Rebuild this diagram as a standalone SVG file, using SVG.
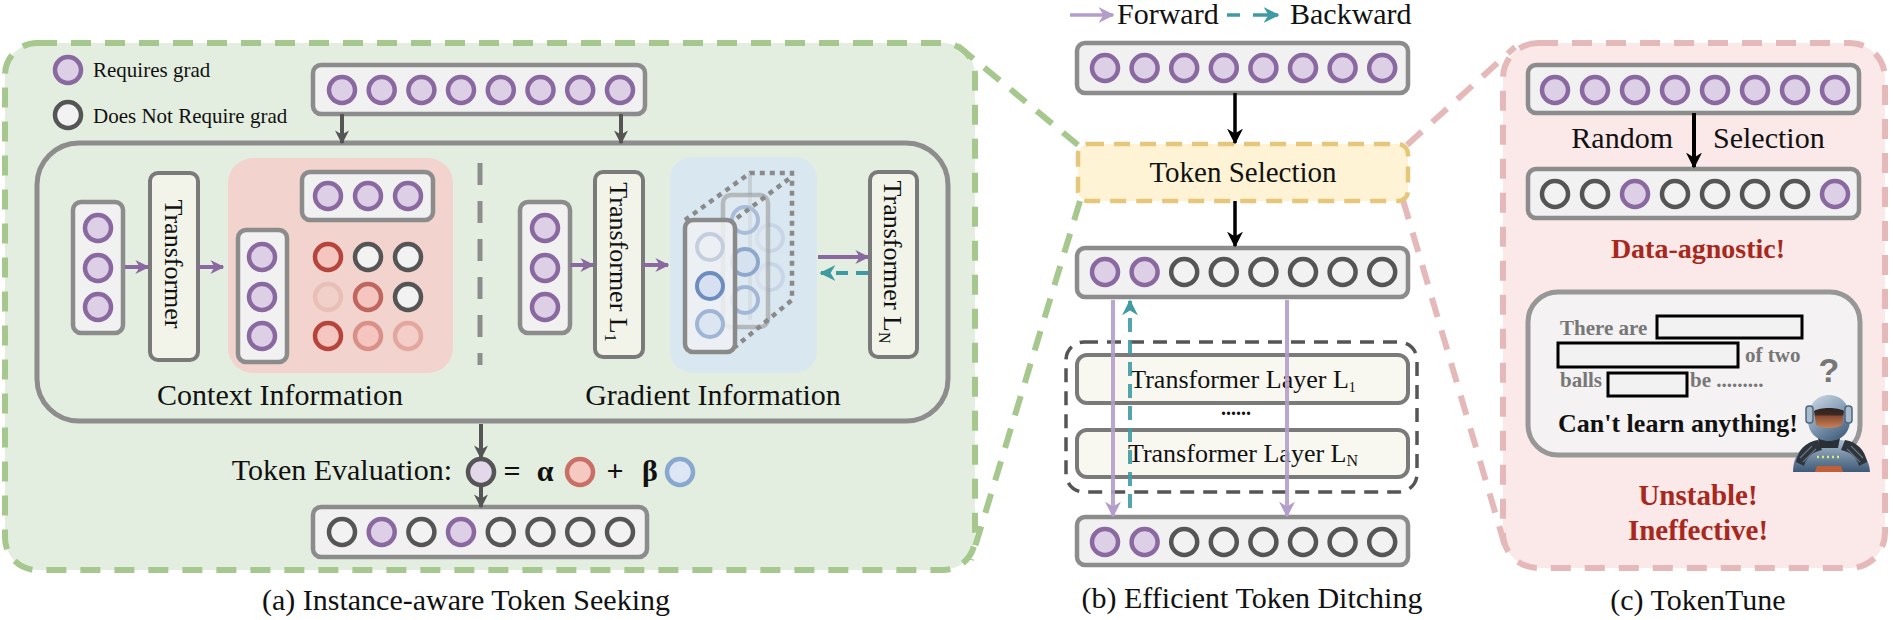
<svg xmlns="http://www.w3.org/2000/svg" width="1893" height="620" viewBox="0 0 1893 620">
<defs>
<style>
.t{font-family:"Liberation Serif","Times New Roman",serif;fill:#111}
.b{font-weight:bold}
.p{fill:#ddd0e6;stroke:#8a68a0;stroke-width:4.5}
.g{fill:#f2f2f2;stroke:#555;stroke-width:4.5}
.bar{fill:#f1f1f1;stroke:#8c8c8c;stroke-width:4.5}
.tf{fill:#f2f4ea;stroke:#7a7a7a;stroke-width:4}
.ly{fill:#f8f7f0;stroke:#7a7a7a;stroke-width:4}
.gd{fill:none;stroke:#a6c88e;stroke-width:6;stroke-dasharray:20 14}
.pd{fill:none;stroke:#e5b9b9;stroke-width:6;stroke-dasharray:20 14}
.dot{fill:none;stroke:#8a8a8a;stroke-width:4.5;stroke-dasharray:5 5}
</style>
<marker id="aG" viewBox="0 0 10 10" refX="9" refY="5" markerWidth="14" markerHeight="14" markerUnits="userSpaceOnUse" orient="auto"><path d="M0,0 L10,5 L0,10 L3,5 z" fill="#555"/></marker>
<marker id="aK" viewBox="0 0 10 10" refX="9" refY="5" markerWidth="16" markerHeight="16" markerUnits="userSpaceOnUse" orient="auto"><path d="M0,0 L10,5 L0,10 L3,5 z" fill="#000"/></marker>
<marker id="aP" viewBox="0 0 10 10" refX="9" refY="5" markerWidth="14" markerHeight="14" markerUnits="userSpaceOnUse" orient="auto"><path d="M0,0 L10,5 L0,10 L3,5 z" fill="#8a68a0"/></marker>
<marker id="aL" viewBox="0 0 10 10" refX="9" refY="5" markerWidth="16" markerHeight="16" markerUnits="userSpaceOnUse" orient="auto"><path d="M0,0 L10,5 L0,10 L3,5 z" fill="#b39dca"/></marker>
<marker id="aT" viewBox="0 0 10 10" refX="9" refY="5" markerWidth="16" markerHeight="16" markerUnits="userSpaceOnUse" orient="auto"><path d="M0,0 L10,5 L0,10 L3,5 z" fill="#3f9ba3"/></marker>
<linearGradient id="rb" x1="0" y1="0" x2="0" y2="1"><stop offset="0" stop-color="#a9bdd0"/><stop offset="1" stop-color="#3e5a76"/></linearGradient>
<linearGradient id="rh" x1="0" y1="0" x2="0.6" y2="1"><stop offset="0" stop-color="#d2dde8"/><stop offset="0.5" stop-color="#8ea6bd"/><stop offset="1" stop-color="#4a6682"/></linearGradient>
<linearGradient id="rv" x1="0" y1="0" x2="0" y2="1"><stop offset="0" stop-color="#2e221e"/><stop offset="0.35" stop-color="#3e2a22"/><stop offset="0.4" stop-color="#8a4a30"/><stop offset="1" stop-color="#c8825a"/></linearGradient>
</defs>

<!-- panel backgrounds -->
<g id="panel-a">
<rect x="5" y="43" width="970" height="527" rx="32" fill="#e3eee0"/>
<rect x="5" y="43" width="970" height="527" rx="32" class="gd"/>
</g>
<g id="panel-c">
<rect x="1503" y="43" width="382" height="525" rx="35" fill="#fbe8e8"/>
<rect x="1503" y="43" width="382" height="525" rx="35" class="pd"/>
</g>

<!-- zoom funnel lines -->
<g id="funnel">
<line x1="958" y1="46" x2="1078" y2="145" class="gd"/>
<line x1="1080" y1="201" x2="971" y2="560" class="gd"/>
<line x1="1407" y1="145" x2="1515" y2="47" class="pd"/>
<line x1="1403" y1="200" x2="1508" y2="556" class="pd"/>
</g>

<!-- (a) legend -->
<g id="legend-a">
<circle cx="68" cy="70" r="13" class="p"/>
<text x="93" y="77" class="t" font-size="21">Requires grad</text>
<circle cx="68" cy="115" r="13" class="g"/>
<text x="93" y="123" class="t" font-size="21">Does Not Require grad</text>
</g>

<g id="a-input">
<rect x="313" y="65" width="332" height="49" rx="8" class="bar"/>
<circle cx="342" cy="90" r="13" class="p"/><circle cx="381.7" cy="90" r="13" class="p"/><circle cx="421.4" cy="90" r="13" class="p"/><circle cx="461" cy="90" r="13" class="p"/><circle cx="500.8" cy="90" r="13" class="p"/><circle cx="540.5" cy="90" r="13" class="p"/><circle cx="580.2" cy="90" r="13" class="p"/><circle cx="620" cy="90" r="13" class="p"/>
</g>

<g id="a-frame">
<rect x="37" y="143" width="911" height="278" rx="42" fill="none" stroke="#8d8d8d" stroke-width="5"/>
<line x1="480" y1="163" x2="480" y2="365" stroke="#8d8d8d" stroke-width="5" stroke-dasharray="22 16"/>
</g>

<g id="context">
<rect x="73" y="202" width="50" height="131" rx="8" class="bar"/>
<circle cx="98" cy="228" r="13" class="p"/><circle cx="98" cy="268" r="13" class="p"/><circle cx="98" cy="307" r="13" class="p"/>
<rect x="150" y="173" width="48" height="187" rx="8" class="tf"/>
<text transform="translate(174,264) rotate(90)" x="0" y="9" text-anchor="middle" class="t" font-size="26">Transformer</text>
<rect x="228" y="158" width="225" height="215" rx="25" fill="#f3d3cd"/>
<rect x="302" y="172" width="131" height="48" rx="8" class="bar"/>
<circle cx="328" cy="196" r="13" class="p"/><circle cx="368" cy="196" r="13" class="p"/><circle cx="408" cy="196" r="13" class="p"/>
<rect x="238" y="230" width="49" height="132" rx="8" class="bar"/>
<circle cx="262" cy="257" r="13" class="p"/><circle cx="262" cy="297" r="13" class="p"/><circle cx="262" cy="336" r="13" class="p"/>
<circle cx="328" cy="257" r="13" fill="#f5c6c0" stroke="#b5443c" stroke-width="4.5"/>
<circle cx="368" cy="257" r="13" class="g"/>
<circle cx="408" cy="257" r="13" class="g"/>
<circle cx="328" cy="297" r="13" fill="#f2d0ca" stroke="#e8c0b8" stroke-width="4.5"/>
<circle cx="368" cy="297" r="13" fill="#f5c6c0" stroke="#c0665e" stroke-width="4.5"/>
<circle cx="408" cy="297" r="13" class="g"/>
<circle cx="328" cy="336" r="13" fill="#f5c6c0" stroke="#b5443c" stroke-width="4.5"/>
<circle cx="368" cy="336" r="13" fill="#f5c6c0" stroke="#d89088" stroke-width="4.5"/>
<circle cx="408" cy="336" r="13" fill="#f5cdc8" stroke="#e2a8a0" stroke-width="4.5"/>
<text x="280" y="405" text-anchor="middle" class="t" font-size="30">Context Information</text>
</g>

<g id="gradient">
<rect x="520" y="202" width="50" height="131" rx="8" class="bar"/>
<circle cx="545" cy="228" r="13" class="p"/><circle cx="545" cy="268" r="13" class="p"/><circle cx="545" cy="307" r="13" class="p"/>
<rect x="595" y="172" width="48" height="185" rx="8" class="tf"/>
<text transform="translate(619,262) rotate(90)" x="0" y="9" text-anchor="middle" class="t" font-size="26">Transformer L<tspan font-size="16" dy="5">1</tspan></text>
<rect x="670" y="157" width="147" height="216" rx="22" fill="#d9e7f1"/>
<circle cx="770" cy="238" r="13" fill="none" stroke="#c9d5e6" stroke-width="4"/>
<circle cx="770" cy="277" r="13" fill="none" stroke="#c9d5e6" stroke-width="4"/>
<line x1="750" y1="173" x2="750" y2="320" stroke="#b8c0c8" stroke-width="4" opacity="0.6"/>
<rect x="723" y="195" width="45" height="132" rx="8" fill="#e6ecf2" fill-opacity="0.5" stroke="#9a9a9a" stroke-width="4.5" stroke-opacity="0.6"/>
<circle cx="745" cy="220" r="13" fill="none" stroke="#a9bcd8" stroke-width="4"/>
<circle cx="745" cy="262" r="13" fill="#d6e2f0" stroke="#8ea8cc" stroke-width="4"/>
<circle cx="745" cy="300" r="13" fill="none" stroke="#a2b7d6" stroke-width="4"/>
<polyline points="685,220 750,173 792,173 792,300 735,347" class="dot"/>
<line x1="737" y1="218" x2="790" y2="178" class="dot"/>
<rect x="685" y="220" width="50" height="132" rx="8" fill="#eef1f5" fill-opacity="0.85" stroke="#8a8a8a" stroke-width="4.5"/>
<circle cx="710" cy="247" r="13" fill="none" stroke="#c4cede" stroke-width="4"/>
<circle cx="710" cy="286" r="13" fill="#d6e0f0" stroke="#6d8cc0" stroke-width="4"/>
<circle cx="710" cy="324" r="13" fill="#dce5f2" stroke="#a0b4d4" stroke-width="4"/>
<rect x="870" y="172" width="47" height="185" rx="8" class="tf"/>
<text transform="translate(893,262) rotate(90)" x="0" y="9" text-anchor="middle" class="t" font-size="26">Transformer L<tspan font-size="16" dy="5">N</tspan></text>
<text x="713" y="405" text-anchor="middle" class="t" font-size="30">Gradient Information</text>
</g>

<g id="a-eval">
<text x="452" y="480" text-anchor="end" class="t" font-size="30">Token Evaluation:</text>
<circle cx="481" cy="472" r="13" fill="#e2d8ea" stroke="#555" stroke-width="4.5"/>
<text x="512" y="481" text-anchor="middle" class="t b" font-size="30">=</text>
<text x="545" y="481" text-anchor="middle" class="t b" font-size="30">α</text>
<circle cx="580" cy="472" r="13" fill="#f5c8c0" stroke="#c87068" stroke-width="4.5"/>
<text x="615" y="481" text-anchor="middle" class="t b" font-size="30">+</text>
<text x="650" y="481" text-anchor="middle" class="t b" font-size="30">β</text>
<circle cx="680" cy="472" r="13" fill="#dce6f4" stroke="#88a8d0" stroke-width="4.5"/>
</g>

<g id="a-output">
<rect x="313" y="507" width="334" height="50" rx="8" class="bar"/>
<circle cx="342" cy="532" r="13" class="g"/><circle cx="381.7" cy="532" r="13" class="p"/><circle cx="421.4" cy="532" r="13" class="g"/><circle cx="461" cy="532" r="13" class="p"/><circle cx="500.8" cy="532" r="13" class="g"/><circle cx="540.5" cy="532" r="13" class="g"/><circle cx="580.2" cy="532" r="13" class="g"/><circle cx="620" cy="532" r="13" class="g"/>
</g>

<!-- (b) -->
<g id="legend-b">
<line x1="1070" y1="15" x2="1113" y2="15" stroke="#b39dca" stroke-width="3.5" marker-end="url(#aL)"/>
<text x="1117" y="24" class="t" font-size="30">Forward</text>
<line x1="1227" y1="15" x2="1240" y2="15" stroke="#3f9ba3" stroke-width="3.5"/>
<line x1="1253" y1="15" x2="1278" y2="15" stroke="#3f9ba3" stroke-width="3.5" marker-end="url(#aT)"/>
<text x="1290" y="24" class="t" font-size="30">Backward</text>
</g>

<g id="b-input">
<rect x="1077" y="43" width="331" height="50" rx="8" class="bar"/>
<circle cx="1105" cy="68" r="13" class="p"/><circle cx="1144.6" cy="68" r="13" class="p"/><circle cx="1184.2" cy="68" r="13" class="p"/><circle cx="1223.8" cy="68" r="13" class="p"/><circle cx="1263.4" cy="68" r="13" class="p"/><circle cx="1303" cy="68" r="13" class="p"/><circle cx="1342.6" cy="68" r="13" class="p"/><circle cx="1382.2" cy="68" r="13" class="p"/>
</g>

<g id="token-selection">
<rect x="1078" y="144" width="330" height="57" rx="10" fill="#fff3d6" stroke="#e5c67a" stroke-width="4.5" stroke-dasharray="16 10"/>
<text x="1243" y="182" text-anchor="middle" class="t" font-size="29">Token Selection</text>
</g>

<g id="b-selected">
<rect x="1077" y="248" width="331" height="49" rx="8" class="bar"/>
<circle cx="1105" cy="272" r="13" class="p"/><circle cx="1144.6" cy="272" r="13" class="p"/><circle cx="1184.2" cy="272" r="13" class="g"/><circle cx="1223.8" cy="272" r="13" class="g"/><circle cx="1263.4" cy="272" r="13" class="g"/><circle cx="1303" cy="272" r="13" class="g"/><circle cx="1342.6" cy="272" r="13" class="g"/><circle cx="1382.2" cy="272" r="13" class="g"/>
</g>

<g id="b-layers">
<rect x="1066" y="342" width="351" height="150" rx="18" fill="none" stroke="#555" stroke-width="3.5" stroke-dasharray="14 9"/>
<rect x="1077" y="355" width="331" height="48" rx="10" class="ly"/>
<text x="1243" y="388" text-anchor="middle" class="t" font-size="26">Transformer Layer L<tspan font-size="14" dy="4">1</tspan></text>
<text x="1236" y="415" text-anchor="middle" class="t b" font-size="20">......</text>
<rect x="1077" y="430" width="331" height="47" rx="10" class="ly"/>
<text x="1243" y="462" text-anchor="middle" class="t" font-size="26">Transformer Layer L<tspan font-size="16" dy="4">N</tspan></text>
</g>

<g id="b-output">
<rect x="1077" y="517" width="331" height="48" rx="8" class="bar"/>
<circle cx="1105" cy="542" r="13" class="p"/><circle cx="1144.6" cy="542" r="13" class="p"/><circle cx="1184.2" cy="542" r="13" class="g"/><circle cx="1223.8" cy="542" r="13" class="g"/><circle cx="1263.4" cy="542" r="13" class="g"/><circle cx="1303" cy="542" r="13" class="g"/><circle cx="1342.6" cy="542" r="13" class="g"/><circle cx="1382.2" cy="542" r="13" class="g"/>
</g>

<!-- (c) -->
<g id="c-input">
<rect x="1528" y="65" width="331" height="48" rx="8" class="bar"/>
<circle cx="1555" cy="90" r="13" class="p"/><circle cx="1595" cy="90" r="13" class="p"/><circle cx="1635" cy="90" r="13" class="p"/><circle cx="1675" cy="90" r="13" class="p"/><circle cx="1715" cy="90" r="13" class="p"/><circle cx="1755" cy="90" r="13" class="p"/><circle cx="1795" cy="90" r="13" class="p"/><circle cx="1835" cy="90" r="13" class="p"/>
<text x="1673" y="148" text-anchor="end" class="t" font-size="30">Random</text>
<text x="1713" y="148" class="t" font-size="30">Selection</text>
</g>
<g id="c-selected">
<rect x="1528" y="169" width="331" height="49" rx="8" class="bar"/>
<circle cx="1555" cy="194" r="13" class="g"/><circle cx="1595" cy="194" r="13" class="g"/><circle cx="1635" cy="194" r="13" class="p"/><circle cx="1675" cy="194" r="13" class="g"/><circle cx="1715" cy="194" r="13" class="g"/><circle cx="1755" cy="194" r="13" class="g"/><circle cx="1795" cy="194" r="13" class="g"/><circle cx="1835" cy="194" r="13" class="p"/>
<text x="1698" y="258" text-anchor="middle" class="t b" font-size="28" style="fill:#a8281e">Data-agnostic!</text>
</g>

<g id="c-example">
<rect x="1528" y="292" width="332" height="163" rx="30" fill="#f4f2f2" stroke="#979797" stroke-width="5"/>
<text x="1560" y="335" class="t b" font-size="21" style="fill:#777">There are</text>
<rect x="1657" y="316" width="145" height="22" fill="#f2f2f2" stroke="#000" stroke-width="3"/>
<rect x="1558" y="343" width="180" height="24" fill="#f2f2f2" stroke="#000" stroke-width="3"/>
<text x="1745" y="362" class="t b" font-size="21" style="fill:#777">of two</text>
<text x="1560" y="387" class="t b" font-size="21" style="fill:#777">balls</text>
<rect x="1608" y="373" width="79" height="23" fill="#f2f2f2" stroke="#000" stroke-width="3"/>
<text x="1690" y="387" class="t b" font-size="21" style="fill:#777">be .........</text>
<text x="1829" y="382" text-anchor="middle" font-family="Liberation Sans, Arial, sans-serif" font-weight="bold" font-size="34" fill="#777">?</text>
<text x="1558" y="432" class="t b" font-size="26">Can't learn anything!</text>
</g>

<g id="robot">
<path d="M1793,472 C1793,456 1801,445 1816,440 L1842,440 C1858,445 1869,456 1870,472 Z" fill="url(#rb)"/>
<path d="M1796,462 C1798,450 1806,442 1818,440 L1822,450 C1812,452 1806,458 1804,466 Z" fill="#2e343c"/>
<path d="M1867,462 C1865,450 1857,442 1845,440 L1841,450 C1851,452 1857,458 1859,466 Z" fill="#2e343c"/>
<path d="M1800,458 L1812,446 M1803,462 L1816,449 M1863,458 L1851,446 M1860,462 L1847,449" stroke="#6a7480" stroke-width="1.2"/>
<path d="M1818,438 L1840,438 L1838,448 L1820,448 Z" fill="#2a2f36"/>
<path d="M1808,420 C1808,404 1817,395 1829,395 C1841,395 1850,404 1850,420 C1850,432 1842,441 1829,441 C1816,441 1808,432 1808,420 Z" fill="url(#rh)"/>
<path d="M1814,411 C1820,407 1838,407 1844,411 L1842,425 C1836,429 1822,429 1816,425 Z" fill="url(#rv)"/>
<rect x="1806" y="406" width="7" height="17" rx="3" fill="#a9bccd" stroke="#4f667c" stroke-width="1.5"/>
<rect x="1845" y="406" width="7" height="17" rx="3" fill="#a9bccd" stroke="#4f667c" stroke-width="1.5"/>
<line x1="1817" y1="457" x2="1841" y2="457" stroke="#d8ec70" stroke-width="2.5" stroke-dasharray="2 3"/>
<path d="M1817,466 L1841,466 L1843,472 L1815,472 Z" fill="#c0603a"/>
</g>

<g id="c-verdict">
<text x="1698" y="505" text-anchor="middle" class="t b" font-size="29" style="fill:#a8281e">Unstable!</text>
<text x="1698" y="540" text-anchor="middle" class="t b" font-size="29" style="fill:#a8281e">Ineffective!</text>
</g>

<!-- connectors -->
<g id="connectors">
<line x1="342" y1="114" x2="342" y2="143" stroke="#555" stroke-width="4" marker-end="url(#aG)"/>
<line x1="621" y1="114" x2="621" y2="143" stroke="#555" stroke-width="4" marker-end="url(#aG)"/>
<line x1="125" y1="267" x2="148" y2="267" stroke="#8a68a0" stroke-width="4" marker-end="url(#aP)"/>
<line x1="198" y1="267" x2="223" y2="267" stroke="#8a68a0" stroke-width="4" marker-end="url(#aP)"/>
<line x1="570" y1="265" x2="593" y2="265" stroke="#8a68a0" stroke-width="4" marker-end="url(#aP)"/>
<line x1="643" y1="265" x2="668" y2="265" stroke="#8a68a0" stroke-width="4" marker-end="url(#aP)"/>
<line x1="818" y1="257" x2="868" y2="257" stroke="#8a68a0" stroke-width="4" marker-end="url(#aP)"/>
<line x1="868" y1="273" x2="821" y2="273" stroke="#3f9ba3" stroke-width="4" stroke-dasharray="12 8" marker-end="url(#aT)"/>
<line x1="481" y1="424" x2="481" y2="458" stroke="#555" stroke-width="4" marker-end="url(#aG)"/>
<line x1="481" y1="487" x2="481" y2="507" stroke="#555" stroke-width="4" marker-end="url(#aG)"/>
<line x1="1235" y1="93" x2="1235" y2="143" stroke="#000" stroke-width="3.5" marker-end="url(#aK)"/>
<line x1="1235" y1="201" x2="1235" y2="246" stroke="#000" stroke-width="3.5" marker-end="url(#aK)"/>
<line x1="1113" y1="300" x2="1113" y2="516" stroke="#b39dca" stroke-width="4" stroke-opacity="0.9" marker-end="url(#aL)"/>
<line x1="1287" y1="300" x2="1287" y2="516" stroke="#b39dca" stroke-width="4" stroke-opacity="0.9" marker-end="url(#aL)"/>
<line x1="1130" y1="508" x2="1130" y2="301" stroke="#3f9ba3" stroke-width="4" stroke-dasharray="14 8" stroke-opacity="0.9" marker-end="url(#aT)"/>
<line x1="1694" y1="113" x2="1694" y2="167" stroke="#000" stroke-width="4" marker-end="url(#aK)"/>
</g>

<!-- captions -->
<g id="captions">
<text x="466" y="610" text-anchor="middle" class="t" font-size="30">(a) Instance-aware Token Seeking</text>
<text x="1252" y="608" text-anchor="middle" class="t" font-size="30">(b) Efficient Token Ditching</text>
<text x="1698" y="610" text-anchor="middle" class="t" font-size="30">(c) TokenTune</text>
</g>
</svg>
